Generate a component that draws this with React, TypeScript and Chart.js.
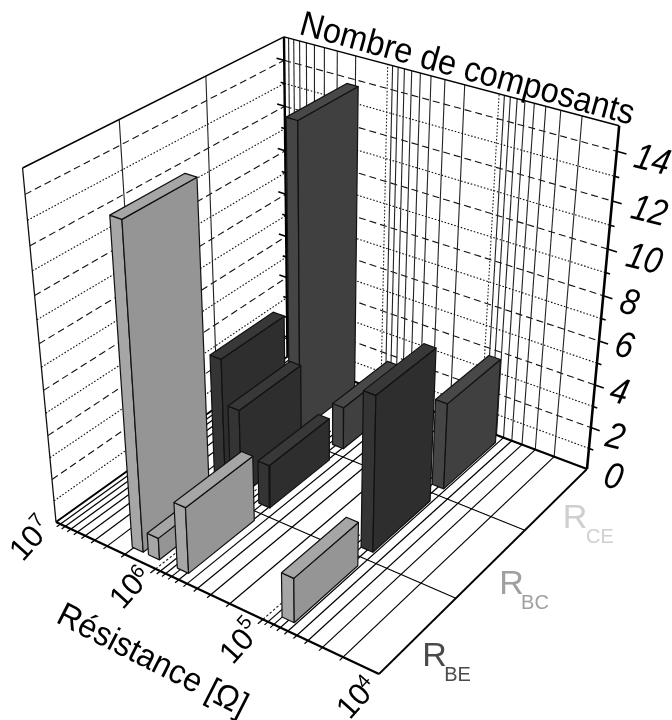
import React, { useEffect, useRef } from "react";
import { Chart, registerables } from "chart.js";

Chart.register(...registerables);

// ---- data ----
const logResistance = [6.26, 6.1, 5.82, 4.85];
const seriesBE = [14, 1, 3, 2];
const seriesBC = [6, 4, 2, 7];
const seriesCE = [14, 0, 2, 4];

const yTickText = ["14", "12", "10", "8", "6", "4", "2", "0"];
const decades = [7, 6, 5, 4];
const minorMultipliers = [2, 3, 4, 5, 6, 7, 8, 9];
const yMax = 15;
const logMax = 7;
const logMin = 4;

// ---- 3D box as seen on the page: floor corners and one top corner ----
const floorA = [56, 522];
const floorB = [379, 674];
const floorC = [587, 469];
const floorD = [287.5, 356.5];
const topA = [22.5, 168];
const vanish = [320, 3317];

function buildCamera() {
  const sx = floorA[0] - floorB[0] + floorC[0] - floorD[0];
  const sy = floorA[1] - floorB[1] + floorC[1] - floorD[1];
  const dx1 = floorB[0] - floorC[0];
  const dy1 = floorB[1] - floorC[1];
  const dx2 = floorD[0] - floorC[0];
  const dy2 = floorD[1] - floorC[1];
  const den = dx1 * dy2 - dx2 * dy1;
  const g = (sx * dy2 - dx2 * sy) / den;
  const h = (dx1 * sy - sx * dy1) / den;
  const a = floorB[0] * (1 + g) - floorA[0];
  const b = floorD[0] * (1 + h) - floorA[0];
  const d = floorB[1] * (1 + g) - floorA[1];
  const e = floorD[1] * (1 + h) - floorA[1];
  const l = (topA[1] - floorA[1]) / (vanish[1] - topA[1]);
  return { a, b, c: floorA[0], d, e, f: floorA[1], g, h, l };
}
const cam = buildCamera();

// u: 0 at 10^7, 1 at 10^4. v: 0 at front, 1 at back. n: count
function project(u: number, v: number, n: number) {
  const t = n / yMax;
  const W = cam.g * u + cam.h * v + 1 + cam.l * t;
  return {
    x: (cam.a * u + cam.b * v + cam.c + cam.l * t * vanish[0]) / W,
    y: (cam.d * u + cam.e * v + cam.f + cam.l * t * vanish[1]) / W,
  };
}
const uOf = (lg: number) => (logMax - lg) / (logMax - logMin);

type Ds = any;
const sets: Ds[] = [];
function line(pts: number[][], color: string, width: number, dash: number[] = []) {
  sets.push({
    data: pts.map((p) => project(p[0], p[1], p[2])),
    showLine: true,
    borderColor: color,
    borderWidth: width,
    borderDash: dash,
    pointRadius: 0,
    fill: false,
    tension: 0,
    clip: false,
    borderCapStyle: "butt",
    borderJoinStyle: "miter",
  });
}
function face(pts: number[][], fillColor: string) {
  const closed = [...pts, pts[0]];
  sets.push({
    data: closed.map((p) => project(p[0], p[1], p[2])),
    showLine: true,
    polygon: true,
    polygonFill: fillColor,
    borderColor: "#111111",
    borderWidth: 1.2,
    pointRadius: 0,
    fill: false,
    tension: 0,
    clip: false,
    borderJoinStyle: "round",
  });
}

const DASH = [7, 4];
const DOT = [1.6, 1.8];
const GRID = "#111111";

// horizontal grid on both walls
for (let n = 1; n < yMax; n++) {
  const dash = n % 2 === 0 ? DASH : DOT;
  line([[0, 0, n], [0, 1, n]], GRID, 1.1, dash);
  line([[0, 1, n], [1, 1, n]], GRID, 1.1, dash);
}
// left wall series dividers
[1 / 3, 2 / 3].forEach((v) => {
  line([[0, v, 0], [0, v, yMax]], "#222222", 1.1);
});
// resistance ticks: back wall + floor
const minorU: number[] = [];
decades.slice(0, 3).forEach((dec) => {
  minorMultipliers.forEach((m) => minorU.push(uOf(dec - 1 + Math.log10(m))));
});
const majorU = [uOf(6), uOf(5)];
minorU.forEach((u) => {
  line([[u, 1, 0], [u, 1, yMax]], "#222222", 1.1);
  line([[u, -0.014, 0], [u, 1, 0]], "#000000", 1.2);
});
majorU.forEach((u) => {
  line([[u, 1, 0], [u, 1, yMax]], "#222222", 1.1, DOT);
  line([[u, 0, 0], [u, 1, 0]], "#222222", 1.1, [2.5, 2]);
  line([[u, -0.02, 0], [u, 0, 0]], "#111111", 1.4);
});
[1 / 3, 2 / 3].forEach((v) => {
  line([[0, v, 0], [1, v, 0]], "#000000", 1.2);
});
// box edges
line([[0, 0, yMax], [0, 1, yMax]], "#000000", 1.5);
line([[0, 1, yMax], [1, 1, yMax]], "#000000", 1.5);
line([[0, 0, 0], [0, 0, yMax]], "#111111", 1.3);
line([[0, 0, 0], [0, 1, 0]], "#000000", 2);
line([[1, 0, 0], [1, 1, 0]], "#000000", 1.8);
line([[0, 1, 0], [1, 1, 0]], "#000000", 2.4);
line([[0, 0, 0], [1, 0, 0]], "#000000", 2.4);
line([[0, 1, 0], [0, 1, yMax]], "#000000", 2.4);
line([[1, 1, 0], [1, 1, yMax]], "#000000", 2.6);
for (let n = 1; n < yMax; n++) {
  const len = n % 2 === 0 ? 0.026 : 0.013;
  line([[1, 1, n], [1 + len, 1, n]], "#000000", 1.6);
  line([[-len, 1, n], [0, 1, n]], "#000000", 1.6);
}

// bars: back row first, low u first
const halfU = 0.018;
const halfV = 0.1333;
const rows = [
  { values: seriesCE, v: 5 / 6, side: "#454545", wide: "#404040", top: "#484848" },
  { values: seriesBC, v: 1 / 2, side: "#343434", wide: "#2e2e2e", top: "#383838" },
  { values: seriesBE, v: 1 / 6, side: "#a6a6a6", wide: "#959595", top: "#a6a6a6" },
];
rows.forEach((r) => {
  logResistance.forEach((lg, i) => {
    const n = r.values[i];
    if (!n) return;
    const u = uOf(lg);
    const u0 = u - halfU;
    const u1 = u + halfU;
    const v0 = r.v - halfV;
    const v1 = r.v + halfV;
    face([[u0, v0, 0], [u1, v0, 0], [u1, v0, n], [u0, v0, n]], r.side);
    face([[u1, v0, 0], [u1, v1, 0], [u1, v1, n], [u1, v0, n]], r.wide);
    face([[u0, v0, n], [u1, v0, n], [u1, v1, n], [u0, v1, n]], r.top);
  });
});

// draw order: earlier entries are painted first
sets.forEach((s, i) => {
  s.order = sets.length - i;
});

const polygonPlugin = {
  id: "polygonFill",
  beforeDatasetDraw(chart: any, args: any) {
    const ds = chart.data.datasets[args.index];
    if (!ds.polygon) return;
    const ctx = chart.ctx;
    ctx.save();
    ctx.beginPath();
    args.meta.data.forEach((el: any, i: number) => {
      if (i === 0) ctx.moveTo(el.x, el.y);
      else ctx.lineTo(el.x, el.y);
    });
    ctx.closePath();
    ctx.fillStyle = ds.polygonFill;
    ctx.fill();
    ctx.restore();
  },
};

const FONT = '"Liberation Sans", Arial, sans-serif';
const deg = Math.PI / 180;
function label(ctx: any, text: string, x: number, y: number, font: string, rot = 0, color = "#000", sy = 1) {
  ctx.save();
  ctx.translate(x, y);
  ctx.rotate(rot * deg);
  ctx.scale(1, sy);
  ctx.font = font;
  ctx.fillStyle = color;
  ctx.textAlign = "center";
  ctx.textBaseline = "middle";
  ctx.fillText(text, 0, 0);
  ctx.restore();
}

const yLabelPos = [
  [652, 161], [649, 212], [644, 260], [629, 304], [624, 347], [619, 393], [615, 438], [613, 478],
];
const decadeBase = [[28, 544], [128, 592], [238, 647], [355, 702]];
const decadeExp = [[37, 521], [138, 572], [245, 623], [364, 682]];
const seriesLabels = [
  { main: "R", sub: "BE", color: "#4a4a4a", main0: [434.5, 657], sub0: [457.5, 675] },
  { main: "R", sub: "BC", color: "#a0a0a0", main0: [511.5, 585], sub0: [535, 603] },
  { main: "R", sub: "CE", color: "#cfcfcf", main0: [575, 519], sub0: [600, 537] },
];

const textPlugin = {
  id: "chartText",
  afterDraw(chart: any) {
    const ctx = chart.ctx;
    yTickText.forEach((t, i) => {
      label(ctx, t, yLabelPos[i][0], yLabelPos[i][1], `italic 32px ${FONT}`, 14, "#000", 1.15);
    });
    decades.forEach((d, i) => {
      label(ctx, "10", decadeBase[i][0], decadeBase[i][1], `31px ${FONT}`, -48);
      label(ctx, String(d), decadeExp[i][0], decadeExp[i][1], `20px ${FONT}`, -48);
    });
    label(ctx, "Nombre de composants", 467, 70, `32.5px ${FONT}`, 15.3, "#000", 1.08);
    label(ctx, "Résistance [Ω]", 152, 661, `32px ${FONT}`, 27, "#000", 1.05);
    seriesLabels.forEach((s) => {
      label(ctx, s.main, s.main0[0], s.main0[1], `34px ${FONT}`, 0, s.color);
      label(ctx, s.sub, s.sub0[0], s.sub0[1], `20px ${FONT}`, 0, s.color);
    });
  },
};

export default function App() {
  const ref = useRef<HTMLCanvasElement>(null);
  useEffect(() => {
    const chart = new Chart(ref.current as HTMLCanvasElement, {
      type: "scatter",
      data: { datasets: sets },
      options: {
        animation: false,
        responsive: false,
        devicePixelRatio: 1,
        layout: { padding: 0 },
        plugins: { legend: { display: false }, tooltip: { enabled: false } },
        scales: {
          x: { type: "linear", min: 0, max: 672, display: false },
          y: { type: "linear", min: 0, max: 720, reverse: true, display: false },
        },
      },
      plugins: [polygonPlugin, textPlugin],
    } as any);
    return () => chart.destroy();
  }, []);
  return (
    <canvas
      ref={ref}
      width={672}
      height={720}
      style={{ position: "fixed", left: 0, top: 0, display: "block", background: "#fff" }}
    />
  );
}
